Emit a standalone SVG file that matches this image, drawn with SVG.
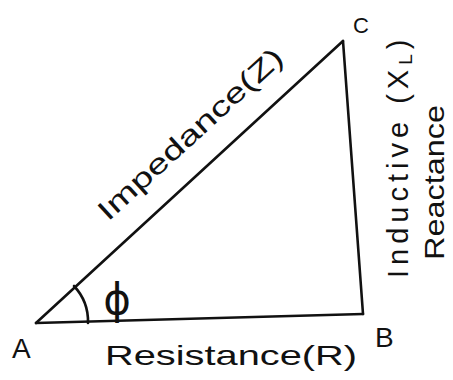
<svg xmlns="http://www.w3.org/2000/svg" width="453" height="380" viewBox="0 0 453 380">
<style>
.side{fill:none;stroke:#111;stroke-width:2.6;stroke-linecap:round;stroke-linejoin:round}
.lbl{font-family:"Liberation Sans",Arial,sans-serif;fill:#111}
</style>
<rect width="453" height="380" fill="#fff"/>
<g id="connectors">
<path id="side-AB" class="side" d="M36 323 Q200 318 363 314"/>
<path id="side-BC" class="side" d="M343 41 L363 314"/>
<path id="side-AC" class="side" d="M36 323 L343 41"/>
<path id="angle-arc" class="side" d="M88 323 A52 52 0 0 0 74 286"/>
</g>
<g id="node-A"><text class="lbl" x="12" y="358" font-size="28">A</text></g>
<g id="node-B"><text class="lbl" x="375" y="347" font-size="28">B</text></g>
<g id="node-C"><text class="lbl" x="353" y="33" font-size="22">C</text></g>
<g id="label-phi"><text x="117" y="314" font-size="42" text-anchor="middle" font-family="DejaVu Sans,sans-serif" fill="#111">ϕ</text></g>
<g id="label-R"><text class="lbl" x="105" y="365" font-size="28" textLength="252" lengthAdjust="spacingAndGlyphs">Resistance(R)</text></g>
<g id="label-Z"><text class="lbl" font-size="28" transform="translate(108 222) rotate(-42.4)" textLength="240" lengthAdjust="spacingAndGlyphs">Impedance(Z)</text></g>
<g id="label-XL">
<text class="lbl" font-size="29" letter-spacing="5" transform="translate(408 278) rotate(-90)">Inductive (X<tspan font-size="19" baseline-shift="-4">L</tspan>)</text>
<text class="lbl" font-size="28" transform="translate(444 260) rotate(-90)" textLength="155" lengthAdjust="spacingAndGlyphs">Reactance</text>
</g>
</svg>
